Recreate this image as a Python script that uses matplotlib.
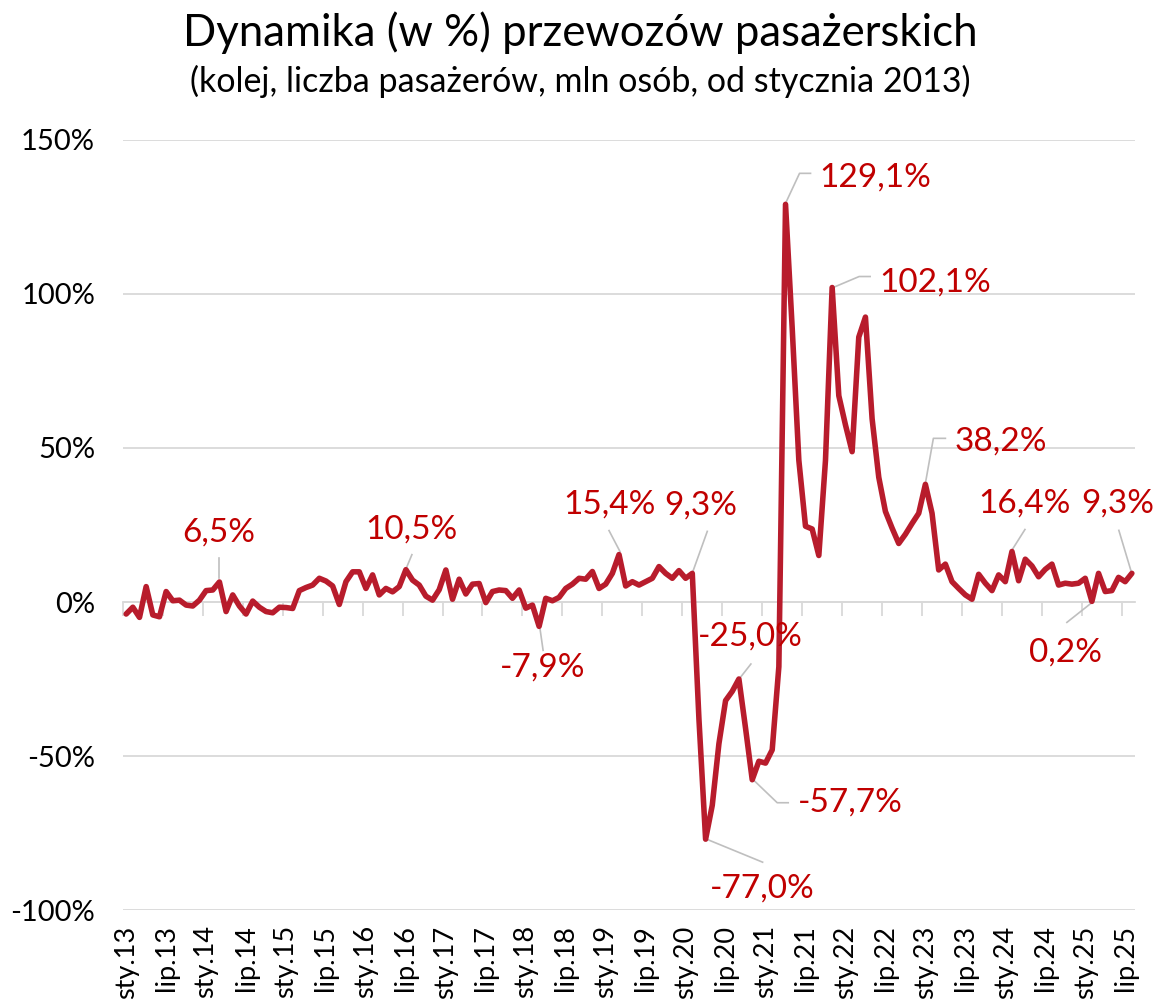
import matplotlib
matplotlib.use('Agg')
import matplotlib.pyplot as plt
import numpy as np

# ---- data ----
values = [
    -3.9, -1.7, -5.0, 5.0, -4.2, -4.8, 3.4, 0.4, 0.6, -1.0, -1.3, 0.6,          # 2013
    3.7, 3.9, 6.5, -3.1, 2.3, -1.3, -3.9, 0.3, -1.7, -3.1, -3.5, -1.7,          # 2014
    -1.8, -2.1, 3.7, 4.7, 5.5, 7.7, 6.8, 5.2, -0.8, 6.6, 9.8, 9.8,              # 2015
    4.4, 8.8, 2.3, 4.4, 3.3, 5.0, 10.5, 7.1, 5.5, 1.9, 0.6, 4.0,                # 2016
    10.4, 0.9, 7.4, 2.6, 5.8, 6.0, -0.2, 3.4, 3.9, 3.7, 1.2, 3.9,               # 2017
    -2.0, -1.0, -7.9, 1.2, 0.4, 1.5, 4.4, 5.8, 7.7, 7.4, 9.9, 4.4,              # 2018
    5.8, 9.3, 15.4, 5.2, 6.6, 5.5, 6.6, 7.7, 11.5, 9.3, 7.7, 10.2,              # 2019
    7.7, 9.3, -38.0, -77.0, -66.0, -46.0, -32.0, -29.0, -25.0, -41.0, -57.7, -51.7,  # 2020
    -52.3, -48.0, -21.0, 129.1, 89.0, 46.0, 24.6, 23.7, 15.1, 46.0, 102.1, 67.0,     # 2021
    57.5, 48.8, 86.0, 92.5, 59.5, 40.5, 29.4, 24.0, 19.0, 22.0, 25.5, 28.8,     # 2022
    38.2, 28.8, 10.4, 12.3, 6.6, 4.4, 2.3, 0.9, 9.0, 6.1, 3.7, 8.8,             # 2023
    6.6, 16.4, 6.9, 13.9, 11.7, 8.2, 10.6, 12.3, 5.5, 6.1, 5.8, 6.1,            # 2024
    7.7, 0.2, 9.3, 3.4, 3.7, 8.0, 6.6, 9.3,                                     # 2025
]

tick_labels = ['sty.13', 'lip.13', 'sty.14', 'lip.14', 'sty.15', 'lip.15',
               'sty.16', 'lip.16', 'sty.17', 'lip.17', 'sty.18', 'lip.18',
               'sty.19', 'lip.19', 'sty.20', 'lip.20', 'sty.21', 'lip.21',
               'sty.22', 'lip.22', 'sty.23', 'lip.23', 'sty.24', 'lip.24',
               'sty.25', 'lip.25']

y_ticks = [-100, -50, 0, 50, 100, 150]

# annotated points (month index)
annot_idx = [14, 42, 62, 74, 85, 92, 94, 87, 99, 106, 120, 133, 151, 145]

# ---- style / layout ----
FONT = ['Lato', 'DejaVu Sans']
plt.rcParams['font.family'] = FONT
LINE_C = '#B81C2C'
TXT_C = '#C00000'
GRID_C = '#D9D9D9'
LEAD_C = '#BFBFBF'

W, H = 1160, 1007
fig = plt.figure(figsize=(W / 100, H / 100), dpi=100)
ax_l, ax_b, ax_w, ax_h = 0.1059, 0.0963, 0.8727, 0.7647
ax = fig.add_axes([ax_l, ax_b, ax_w, ax_h])

n = len(values)
x = np.arange(n)
ax.set_xlim(-0.5, n - 0.5)
ax.set_ylim(-100, 150)

ax.plot(x, values, color=LINE_C, lw=4.0, solid_joinstyle='round',
        solid_capstyle='round', zorder=3)

ax.set_yticks(y_ticks)
ax.set_yticklabels([f'{t}%' for t in y_ticks])
ax.grid(axis='y', color=GRID_C, lw=1.3)
ax.set_axisbelow(True)
for s in ax.spines.values():
    s.set_visible(False)
ax.tick_params(axis='y', length=0, pad=20, labelsize=21, labelcolor='#000000')

ax.set_xticks(np.arange(0, n, 6)[:len(tick_labels)])
ax.set_xticklabels(tick_labels, rotation=90)
ax.tick_params(axis='x', length=0, pad=11, labelsize=19.5, labelcolor='#000000')

# category axis line with tick marks crossing at 0
loc0 = (0 - (-100)) / 250
sec = ax.secondary_xaxis(loc0)
sec.set_xticks(np.arange(-0.5, n - 1, 6))
sec.set_xticklabels([])
sec.tick_params(length=10, width=1.3, color=GRID_C, direction='out')
sec.spines['bottom'].set_color(GRID_C)
sec.spines['bottom'].set_linewidth(1.3)

# pixel -> data scale
pxx = ax_w * W / (n)          # px per month
pxy = ax_h * H / 250.0        # px per percent

# label text offset (px, up positive) and leader path (px offsets)
annot_style = {
    14: ((-1, 49), [(0, 4), (0, 24)]),
    42: ((6, 40), [(1, 3), (6, 15)]),
    62: ((4, -41), [(1, -3), (4, -24)]),
    74: ((-10, 50), [(1, 3), (-10, 24)]),
    85: ((8, 68), [(1, 3), (15, 42)]),
    92: ((11, 42), [(1, 1), (12, 15)]),
    94: ((98, -23), [(1, 0), (25, -23), (36, -23)]),
    87: ((57, -49), [(1, 0), (57, -23)]),
    99: ((90, 27), [(0, 1), (14, 31), (25, 31)]),
    106: ((103, 5), [(1, 0), (27, 11), (38, 11)]),
    120: ((75, 43), [(0, 1), (8, 46), (20, 46)]),
    133: ((13, 48), [(1, 3), (13, 22)]),
    151: ((-14, 70), [(-1, 3), (-13, 43)]),
    145: ((-26, -51), [(-1, -2), (-25, -21)]),
}

for i in annot_idx:
    v = values[i]
    (tdx, tdy), path = annot_style[i]
    xs = [i + dx / pxx for dx, dy in path]
    ys = [v + dy / pxy for dx, dy in path]
    ax.plot(xs, ys, color=LEAD_C, lw=1.2, zorder=2, clip_on=False)
    label = f'{v:.1f}'.replace('.', ',') + '%'
    ax.annotate(label, xy=(i, v), xytext=(tdx, tdy), textcoords='offset pixels',
                ha='center', va='center', fontsize=24, color=TXT_C,
                annotation_clip=False, zorder=4)

fig.text(0.5, 1 - 33 / H, 'Dynamika (w %) przewozów pasażerskich',
         ha='center', va='center', fontsize=31.5, color='#000000')
fig.text(0.5, 1 - 81 / H, '(kolej, liczba pasażerów, mln osób, od stycznia 2013)',
         ha='center', va='center', fontsize=24.5, color='#000000')

fig.savefig('out.png', dpi=100)
